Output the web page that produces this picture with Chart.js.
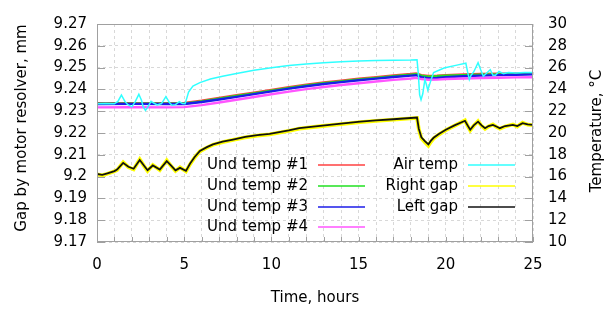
<!DOCTYPE html>
<html><head><meta charset="utf-8">
<script src="https://cdn.jsdelivr.net/npm/chart.js@4/dist/chart.umd.min.js"></script>
<style>html,body{margin:0;padding:0;background:#fff}canvas{display:block}</style>
</head><body>
<canvas id="c" width="608" height="309"></canvas>
<script>
// ---- data ----
const undTime  = [0, 2, 4, 5, 6, 7, 8, 9, 10, 11, 12, 13, 14, 15, 16, 17, 18, 18.3, 18.6, 19, 19.5, 20, 21, 22, 23, 24, 25];
const undTemp1 = [22.72,22.73,22.72,22.74,22.95,23.2,23.45,23.7,23.95,24.2,24.42,24.62,24.8,24.97,25.12,25.27,25.4,25.46,25.3,25.22,25.25,25.3,25.36,25.4,25.43,25.45,25.48];
const undTemp2 = [22.68,22.69,22.68,22.69,22.9,23.14,23.39,23.64,23.89,24.14,24.36,24.56,24.74,24.91,25.06,25.21,25.34,25.39,25.25,25.17,25.2,25.25,25.3,25.34,25.37,25.39,25.42];
const undTemp3 = [22.66,22.67,22.66,22.66,22.84,23.07,23.32,23.57,23.82,24.07,24.29,24.49,24.67,24.84,24.99,25.14,25.26,25.3,25.12,25.02,25.06,25.12,25.2,25.26,25.31,25.35,25.38];
const undTemp4 = [22.35,22.36,22.35,22.37,22.56,22.8,23.05,23.3,23.55,23.8,24.02,24.22,24.4,24.57,24.72,24.87,25.0,25.06,24.95,24.88,24.9,24.95,25.0,25.04,25.07,25.1,25.12];

const airTime = [0,0.5,1.0,1.2,1.4,1.6,1.75,2.0,2.2,2.4,2.55,2.65,2.78,2.92,3.1,3.25,3.45,3.7,3.95,4.15,4.3,4.5,4.72,4.9,5.05,5.15,5.25,5.5,5.9,6.5,7.2,8,9,10,11,12,13,14,15,16,17,18,18.35,18.42,18.5,18.58,18.68,18.8,18.88,18.97,19.1,19.3,19.9,20.7,21.15,21.25,21.35,21.45,21.6,21.85,22.0,22.15,22.35,22.55,22.7,22.85,23.05,23.3,23.6,24,24.5,25];
const airTemp = [22.68,22.7,22.68,22.9,23.48,22.9,22.62,22.4,22.9,23.55,23.0,22.4,22.08,22.4,22.9,22.75,22.58,22.7,23.33,22.8,22.55,22.6,22.88,22.7,22.68,23.2,23.75,24.3,24.62,24.95,25.2,25.45,25.75,25.98,26.2,26.33,26.45,26.54,26.6,26.65,26.68,26.7,26.72,25.5,23.5,23.05,23.6,24.9,24.5,23.93,24.6,25.54,25.96,26.25,26.4,25.6,24.9,25.3,25.6,26.45,25.8,25.2,25.5,25.8,25.3,25.3,25.65,25.45,25.55,25.5,25.55,25.55];

const gapTime  = [0,0.3,0.6,1.0,1.15,1.5,1.8,2.1,2.45,2.7,2.9,3.2,3.6,4.0,4.25,4.5,4.76,5.1,5.2,5.33,5.6,5.9,6.3,6.65,7.2,7.8,8.5,9.2,9.9,11,11.6,12.8,14,15.1,16,17,18.35,18.45,18.6,18.8,19.0,19.15,19.3,19.6,20,20.5,21.1,21.25,21.4,21.6,21.85,22.05,22.25,22.45,22.7,22.9,23.1,23.4,23.85,24.1,24.4,24.7,25];
const leftGap  = [9.2012,9.2008,9.2015,9.2025,9.2032,9.2063,9.2045,9.2036,9.2076,9.205,9.2029,9.2051,9.2032,9.2071,9.205,9.2029,9.204,9.2027,9.204,9.2059,9.209,9.2118,9.2135,9.2148,9.216,9.217,9.2182,9.219,9.2196,9.2212,9.2222,9.2233,9.2243,9.2252,9.2258,9.2263,9.2271,9.222,9.218,9.2163,9.2148,9.2165,9.2178,9.2195,9.2215,9.2235,9.2256,9.2235,9.2215,9.2235,9.2252,9.2235,9.2222,9.2232,9.2237,9.223,9.2222,9.2232,9.2237,9.2232,9.2245,9.224,9.2237];
const rightGap = [9.2010,9.2006,9.2013,9.2024,9.2030,9.2066,9.2043,9.2033,9.2079,9.2048,9.2026,9.2053,9.2030,9.2074,9.2048,9.2026,9.2042,9.2024,9.2038,9.2056,9.2088,9.2116,9.2133,9.2146,9.2158,9.2168,9.2180,9.2188,9.2194,9.2210,9.2220,9.2231,9.2241,9.2250,9.2256,9.2261,9.2269,9.2218,9.2176,9.2158,9.2142,9.2160,9.2175,9.2193,9.2213,9.2233,9.2258,9.2233,9.2212,9.2233,9.2254,9.2233,9.2219,9.2230,9.2239,9.2228,9.2220,9.2230,9.2239,9.2230,9.2247,9.2238,9.2236];

const yTickLabels = ['9.17','9.18','9.19','9.2','9.21','9.22','9.23','9.24','9.25','9.26','9.27'];

const pts = (xs, ys) => xs.map((x, i) => ({x, y: ys[i]}));
const FONT = "'DejaVu Sans', sans-serif";

function ds(label, xs, ys, color, axis, width, order) {
  return {label, data: pts(xs, ys), borderColor: color, backgroundColor: color,
    yAxisID: axis, borderWidth: width, pointRadius: 0, tension: 0, order, fill: false};
}

const datasets = [
  ds('Und temp #1', undTime, undTemp1, '#ff4040', 'y1', 2.6, 9),
  ds('Und temp #2', undTime, undTemp2, '#20e020', 'y1', 2.4, 8),
  ds('Und temp #3', undTime, undTemp3, '#1c1ce8', 'y1', 2.4, 7),
  ds('Und temp #4', undTime, undTemp4, '#ff55ff', 'y1', 2.4, 6),
  ds('Air temp',    airTime, airTemp,  '#30ffff', 'y1', 1.5, 5),
  ds('Right gap',   gapTime, rightGap, '#ffff00', 'y', 3.8, 4),
  ds('Left gap',    gapTime, leftGap,  '#111111', 'y', 1.8, 3)
];

const decor = {
  id: 'decor',
  afterDraw(chart) {
    const {ctx, chartArea: a, scales} = chart;
    ctx.save();
    ctx.strokeStyle = '#a0a0a0';
    ctx.lineWidth = 1;
    ctx.beginPath();
    scales.y.ticks.forEach(t => {
      const y = Math.round(scales.y.getPixelForValue(t.value)) + 0.5;
      ctx.moveTo(a.left, y); ctx.lineTo(a.left + 8, y);
    });
    scales.y1.ticks.forEach(t => {
      const y = Math.round(scales.y1.getPixelForValue(t.value)) + 0.5;
      ctx.moveTo(a.right, y); ctx.lineTo(a.right - 8, y);
    });
    scales.x.ticks.forEach(t => {
      const x = Math.round(scales.x.getPixelForValue(t.value)) + 0.5;
      ctx.moveTo(x, a.bottom); ctx.lineTo(x, a.bottom - 5);
    });
    ctx.stroke();
    ctx.strokeRect(Math.round(a.left) + 0.5, Math.round(a.top) + 0.5,
                   Math.round(a.right - a.left) - 1, Math.round(a.bottom - a.top) - 1);

    // axis titles
    ctx.fillStyle = '#000';
    ctx.font = '15px ' + FONT;
    ctx.textAlign = 'center';
    ctx.textBaseline = 'middle';
    ctx.fillText('Time, hours', (a.left + a.right) / 2, 298);
    ctx.save();
    ctx.translate(22, 128); ctx.rotate(-Math.PI / 2);
    ctx.fillText('Gap by motor resolver, mm', 0, 0);
    ctx.restore();
    ctx.save();
    ctx.translate(597, 131); ctx.rotate(-Math.PI / 2);
    ctx.fillText('Temperature, °C', 0, 0);
    ctx.restore();

    // legend
    const rowsY = [165, 186, 207, 227];
    const cols = [{textX: 308, x0: 318, x1: 365, items: [0, 1, 2, 3]},
                  {textX: 458, x0: 468, x1: 515, items: [4, 5, 6]}];
    ctx.textAlign = 'right';
    cols.forEach(c => {
      c.items.forEach((di, r) => {
        const d = chart.data.datasets[di];
        const y = rowsY[r];
        ctx.fillStyle = '#000';
        ctx.fillText(d.label, c.textX, y);
        ctx.strokeStyle = d.borderColor;
        ctx.lineWidth = 1.3;
        ctx.beginPath();
        ctx.moveTo(c.x0, y); ctx.lineTo(c.x1, y);
        ctx.stroke();
      });
    });
    ctx.restore();
  }
};

new Chart(document.getElementById('c'), {
  type: 'line',
  data: {datasets},
  options: {
    responsive: false,
    animation: false,
    devicePixelRatio: 1,
    layout: {padding: {top: 18, left: 0, right: 0, bottom: 0}},
    plugins: {legend: {display: false}, tooltip: {enabled: false}},
    scales: {
      x: {
        type: 'linear', min: 0, max: 25,
        afterFit: s => { s.height = 67; },
        grid: {color: '#d8d8d8', lineWidth: 1, drawTicks: false},
        border: {display: false, dash: [3, 3]},
        ticks: {stepSize: 1, autoSkip: false, maxRotation: 0, padding: 14,
                color: '#000', font: {family: FONT, size: 15},
                callback: v => (v % 5 === 0 ? String(v) : '')}
      },
      y: {
        type: 'linear', position: 'left', min: 9.17, max: 9.27,
        afterFit: s => { s.width = 97; },
        grid: {color: '#d8d8d8', lineWidth: 1, drawTicks: false},
        border: {display: false, dash: [3, 3]},
        ticks: {stepSize: 0.01, autoSkip: false, padding: 10,
                color: '#000', font: {family: FONT, size: 15},
                callback: (v, i) => yTickLabels[i] !== undefined ? yTickLabels[i] : ''}
      },
      y1: {
        type: 'linear', position: 'right', min: 10, max: 30,
        afterFit: s => { s.width = 75; },
        grid: {drawOnChartArea: false, drawTicks: false},
        border: {display: false},
        ticks: {stepSize: 2, autoSkip: false, padding: 15,
                color: '#000', font: {family: FONT, size: 15}}
      }
    }
  },
  plugins: [decor]
});
</script>
</body></html>
